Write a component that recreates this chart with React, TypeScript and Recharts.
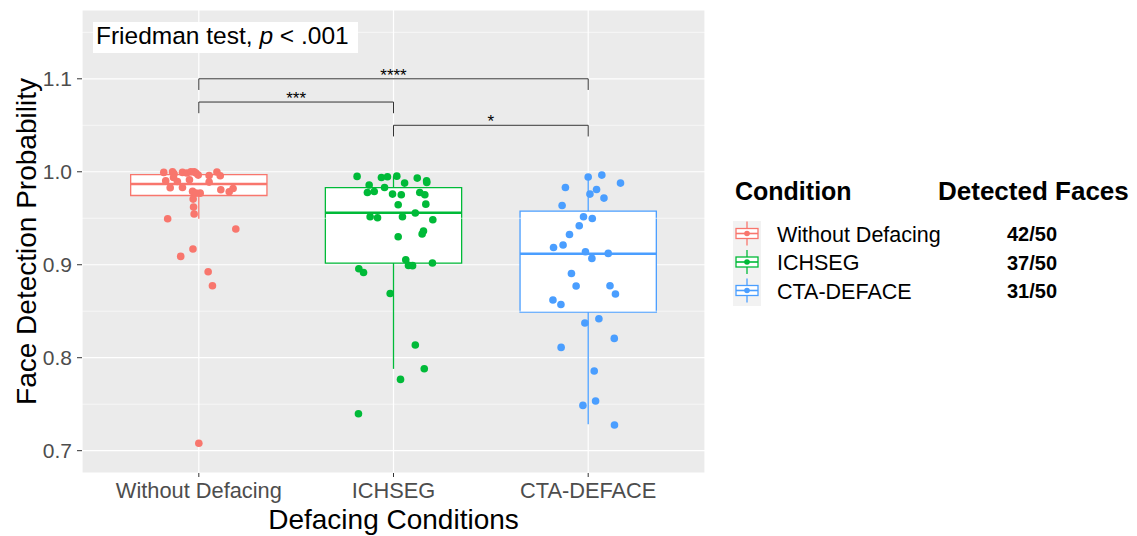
import {
  ComposedChart,
  Scatter,
  XAxis,
  YAxis,
  CartesianGrid,
  ReferenceArea,
  ReferenceLine,
  ReferenceDot,
} from 'recharts'

const FONT = '"Liberation Sans", Arial, sans-serif'

const categories = ['Without Defacing', 'ICHSEG', 'CTA-DEFACE']
const colors = ['#F8766D', '#00BA38', '#4A9EFF']
const detectedFaces = ['42/50', '37/50', '31/50']

// probabilities, with the horizontal jitter of each dot
const withoutDefacingValues = [
  0.9993, 1.0, 0.9978, 0.9993, 0.9986, 1.0, 1.0, 0.9986, 0.9964, 0.996, 0.9997, 0.9957,
  0.9903, 0.9896, 0.9914, 0.9889, 0.9939, 0.9828, 0.9831, 0.9806, 0.9785, 0.982, 0.9789,
  0.977, 0.977, 0.9706, 0.962, 0.9545, 0.9495, 0.9384, 0.9169, 0.909, 0.8925, 0.8774, 0.708,
]
const withoutDefacingJitter = [
  -0.18, -0.135, -0.127, -0.084, -0.062, -0.041, -0.024, -0.015, -0.003, 0.053, 0.093, 0.11,
  -0.17, -0.11, -0.048, 0.053, -0.13, -0.147, -0.084, 0.113, 0.156, 0.176, -0.032,
  -0.015, 0.007, -0.029, -0.027, -0.024, -0.16, 0.19, -0.03, -0.093, 0.048, 0.07, 0.0,
]
const ichsegValues = [
  0.995, 0.9939, 0.9946, 0.9953, 0.9932, 0.9903, 0.9885, 0.9878, 0.9857, 0.9831, 0.9777,
  0.9788, 0.976, 0.9753, 0.9777, 0.9753, 0.9645, 0.9652, 0.9556, 0.9516, 0.9505, 0.9516,
  0.9484, 0.9362, 0.933, 0.9301, 0.9054, 0.8993, 0.899, 0.9018, 0.8957, 0.8917, 0.8691,
  0.8137, 0.7882, 0.7767, 0.7398,
]
const ichsegJitter = [
  -0.187, -0.062, -0.031, 0.017, 0.122, 0.17, 0.171, 0.057, -0.125, -0.046, -0.134,
  -0.099, -0.005, 0.04, 0.135, 0.161, 0.024, 0.166, 0.112, -0.12, -0.082, 0.046,
  0.202, 0.154, 0.147, 0.024, 0.063, 0.077, 0.098, 0.2, -0.178, -0.154, -0.017,
  0.112, 0.158, 0.036, -0.18,
]
const ctaDefaceValues = [
  0.9943, 0.9964, 0.9878, 0.9831, 0.981, 0.976, 0.9717, 0.9638, 0.9516, 0.9498, 0.9419,
  0.9326, 0.9186, 0.9212, 0.914, 0.9122, 0.9068, 0.8906, 0.8771, 0.8774, 0.8685, 0.862,
  0.8573, 0.8373, 0.8419, 0.8208, 0.8111, 0.7857, 0.7487, 0.7534, 0.7276,
]
const ctaDefaceJitter = [
  0.0, 0.07, 0.166, -0.117, 0.043, 0.009, 0.081, -0.134, -0.024, 0.021, -0.046,
  -0.096, -0.178, -0.129, -0.014, 0.103, 0.019, -0.086, -0.062, 0.112, 0.14, -0.181,
  -0.14, -0.017, 0.055, 0.134, -0.139, 0.031, -0.027, 0.038, 0.135,
]

// boxplot statistics per condition
const whiskerLow = [0.9495, 0.788, 0.7285]
const quartile1 = [0.9745, 0.9018, 0.849]
const medians = [0.9868, 0.956, 0.9118]
const quartile3 = [0.997, 0.983, 0.9577]
const whiskerHigh = [1.0, 0.995, 0.995]

// pairwise comparison brackets
const sigFrom = [0, 0, 1]
const sigTo = [2, 1, 2]
const sigLabels = ['****', '***', '*']
const sigLevels = [1.1, 1.075, 1.05]
const tipLength = 0.012

const yTicks = [0.7, 0.8, 0.9, 1.0, 1.1]
const yMinor = [0.75, 0.85, 0.95, 1.05, 1.15]

const groups = [
  { values: withoutDefacingValues, jitter: withoutDefacingJitter },
  { values: ichsegValues, jitter: ichsegJitter },
  { values: ctaDefaceValues, jitter: ctaDefaceJitter },
]

const BOX_HALF = 0.35

export default function App() {
  return (
    <div style={{ position: 'absolute', left: 0, top: 0, width: 1137, height: 536, background: '#fff', fontFamily: FONT }}>
      <ComposedChart width={720} height={536} margin={{ top: 10, right: 15, left: 0, bottom: 0 }}>
        <CartesianGrid fill="#EBEBEB" fillOpacity={1} stroke="#fff" strokeWidth={1.2} />
        <XAxis
          type="number"
          dataKey="x"
          domain={[-0.6, 2.6]}
          ticks={[0, 1, 2]}
          interval={0}
          allowDataOverflow
          tickFormatter={(i: number) => categories[i]}
          axisLine={false}
          tickLine={{ stroke: '#333' }}
          tickSize={4}
          tickMargin={6}
          height={63}
          tick={{ fill: '#4D4D4D', fontSize: 21.8, fontFamily: FONT }}
          label={{
            content: ({ viewBox }: any) => (
              <text x={viewBox.x + viewBox.width / 2} y={529} textAnchor="middle" fontSize={28} fill="#000" fontFamily={FONT}>
                Defacing Conditions
              </text>
            ),
          }}
        />
        <YAxis
          type="number"
          dataKey="y"
          domain={[0.676, 1.174]}
          ticks={yTicks}
          allowDataOverflow
          tickFormatter={(v: number) => v.toFixed(1)}
          axisLine={false}
          tickLine={{ stroke: '#333' }}
          tickSize={5}
          tickMargin={5}
          width={82}
          tick={{ fill: '#4D4D4D', fontSize: 21, fontFamily: FONT }}
          label={{
            content: ({ viewBox }: any) => {
              const cx = 26
              const cy = viewBox.y + viewBox.height / 2
              return (
                <text x={cx} y={cy} transform={`rotate(-90 ${cx} ${cy})`} textAnchor="middle" dominantBaseline="central" fontSize={28} fill="#000" fontFamily={FONT}>
                  Face Detection Probability
                </text>
              )
            },
          }}
        />
        {yMinor.map((v) => (
          <ReferenceLine key={`minor-${v}`} y={v} stroke="#fff" strokeWidth={0.6} />
        ))}

        {categories.map((c, i) => (
          <ReferenceArea
            key={`box-${c}`}
            x1={i - BOX_HALF}
            x2={i + BOX_HALF}
            y1={quartile1[i]}
            y2={quartile3[i]}
            fill="#fff"
            fillOpacity={1}
            stroke={colors[i]}
            strokeWidth={1.3}
          />
        ))}
        {categories.map((c, i) => (
          <ReferenceLine
            key={`med-${c}`}
            segment={[{ x: i - BOX_HALF, y: medians[i] }, { x: i + BOX_HALF, y: medians[i] }]}
            stroke={colors[i]}
            strokeWidth={2.6}
          />
        ))}
        {categories.map((c, i) => (
          <ReferenceLine
            key={`wlo-${c}`}
            segment={[{ x: i, y: whiskerLow[i] }, { x: i, y: quartile1[i] }]}
            stroke={colors[i]}
            strokeWidth={1.3}
          />
        ))}
        {categories.map((c, i) => (
          <ReferenceLine
            key={`whi-${c}`}
            segment={[{ x: i, y: quartile3[i] }, { x: i, y: whiskerHigh[i] }]}
            stroke={colors[i]}
            strokeWidth={1.3}
          />
        ))}

        {sigLabels.map((s, k) => (
          <ReferenceLine
            key={`sig-h-${k}`}
            segment={[{ x: sigFrom[k], y: sigLevels[k] }, { x: sigTo[k], y: sigLevels[k] }]}
            stroke="#333"
            strokeWidth={1}
          />
        ))}
        {sigLabels.map((s, k) => (
          <ReferenceLine
            key={`sig-l-${k}`}
            segment={[{ x: sigFrom[k], y: sigLevels[k] }, { x: sigFrom[k], y: sigLevels[k] - tipLength }]}
            stroke="#333"
            strokeWidth={1}
          />
        ))}
        {sigLabels.map((s, k) => (
          <ReferenceLine
            key={`sig-r-${k}`}
            segment={[{ x: sigTo[k], y: sigLevels[k] }, { x: sigTo[k], y: sigLevels[k] - tipLength }]}
            stroke="#333"
            strokeWidth={1}
          />
        ))}
        {sigLabels.map((s, k) => (
          <ReferenceDot
            key={`sig-t-${k}`}
            x={(sigFrom[k] + sigTo[k]) / 2}
            y={sigLevels[k]}
            r={0}
            fill="none"
            stroke="none"
            label={{ value: s, position: 'top', offset: -2, fill: '#000', fontSize: 17, fontFamily: FONT }}
          />
        ))}

        {groups.map((g, i) => (
          <Scatter
            key={`pts-${i}`}
            name={categories[i]}
            data={g.values.map((v, n) => ({ x: i + g.jitter[n], y: v }))}
            fill={colors[i]}
            isAnimationActive={false}
            shape={(p: any) => <circle cx={p.cx} cy={p.cy} r={3.8} fill={colors[i]} />}
          />
        ))}
      </ComposedChart>

      <div
        style={{
          position: 'absolute',
          left: 93,
          top: 22,
          width: 262,
          height: 31,
          paddingLeft: 3,
          background: '#fff',
          fontSize: 24.5,
          lineHeight: '28px',
          color: '#000',
        }}
      >
        Friedman test, <i>p</i> &lt; .001
      </div>

      <svg style={{ position: 'absolute', left: 700, top: 160 }} width={437} height={160}>
        <text x={35} y={40} fontSize={25} fontWeight="bold" fontFamily={FONT}>Condition</text>
        <text x={238} y={40} fontSize={26} fontWeight="bold" fontFamily={FONT}>Detected Faces</text>
        <rect x={33} y={61} width={28} height={85} fill="#F2F2F2" />
        {categories.map((c, i) => {
          const cy = 73.5 + i * 28.5
          return (
            <g key={`key-${c}`}>
              <line x1={47} x2={47} y1={cy - 12} y2={cy + 12} stroke={colors[i]} strokeWidth={1.3} />
              <rect x={36} y={cy - 5} width={22} height={10} fill="#fff" stroke={colors[i]} strokeWidth={1.3} />
              <line x1={36} x2={58} y1={cy} y2={cy} stroke={colors[i]} strokeWidth={1.6} />
              <circle cx={47} cy={cy} r={2.8} fill={colors[i]} />
              <text x={77} y={cy + 8} fontSize={21.5} fontFamily={FONT} fill="#000">{c}</text>
              <text x={307} y={cy + 7.5} fontSize={20} fontWeight="bold" fontFamily={FONT} fill="#000">{detectedFaces[i]}</text>
            </g>
          )
        })}
      </svg>
    </div>
  )
}
